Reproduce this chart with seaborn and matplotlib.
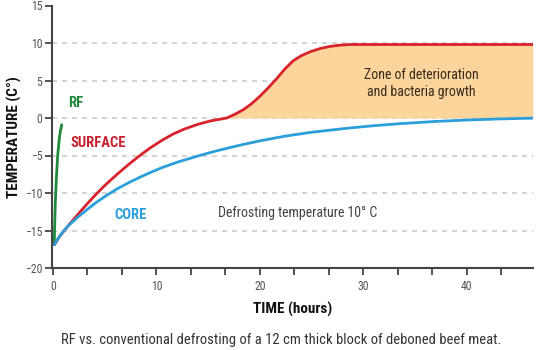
import matplotlib
matplotlib.use("Agg")
import matplotlib.pyplot as plt
import matplotlib.font_manager as fm
import seaborn as sns
import pandas as pd
import numpy as np

# ---- data ----
rf_time = [0.12, 0.15, 0.22, 0.32, 0.45, 0.61, 0.72, 0.84]
rf_temp = [-16.9, -14.9, -11.3, -8.1, -5.0, -2.7, -1.7, -0.9]

surface_time = [0.13, 0.61, 1.09, 1.57, 2.5, 3.3, 4.14, 5.0, 6.2, 7.35, 8.4, 9.44, 10.57,
                11.6, 12.65, 14.0, 15.2, 16.0, 16.8, 17.6, 18.4, 19.2, 20.0, 20.8, 21.6,
                22.4, 23.2, 24.0, 24.9, 25.8, 26.8, 27.8, 28.7, 46.4]
surface_temp = [-16.9, -15.85, -15.0, -14.2, -12.7, -11.45, -10.2, -9.0, -7.5, -6.15, -5.0, -3.95, -2.95,
                -2.15, -1.5, -0.85, -0.4, -0.2, 0.0, 0.5, 1.1, 1.9, 2.9, 4.0, 5.2,
                6.5, 7.6, 8.3, 8.85, 9.25, 9.55, 9.72, 9.8, 9.8]

core_time = [0.13, 0.61, 1.09, 1.57, 2.5, 3.3, 4.14, 5.2, 6.2, 7.35, 8.4, 9.44, 10.57, 12.0,
             14.3, 15.9, 18.0, 20.0, 22.3, 25.0, 28.7, 31.0, 33.5, 37.0, 40.0, 43.0, 46.4]
core_temp = [-16.9, -15.8, -14.95, -14.25, -13.1, -12.2, -11.3, -10.3, -9.45, -8.6, -7.9, -7.25, -6.6, -5.9,
             -4.95, -4.35, -3.65, -3.05, -2.45, -1.9, -1.33, -1.03, -0.76, -0.46, -0.27, -0.13, -0.02]

zone_start = 16.8
x_ticks = [0, 10, 20, 30, 40]
y_ticks = [-20, -15, -10, -5, 0, 5, 10, 15]
grid_levels = [-15, -10, -5, 0, 5, 10]

# ---- fonts ----
avail = {f.name for f in fm.fontManager.ttflist}
cond = None
for cand in ["Roboto Condensed", "Open Sans Condensed", "Liberation Sans Narrow",
             "DejaVu Sans Condensed", "Noto Sans Condensed"]:
    if cand in avail:
        cond = cand
        break
if cond is None:
    cond = "DejaVu Sans"

sns.set_style("white")
plt.rcParams["font.family"] = [cond, "DejaVu Sans"]

GREEN = "#1f8a3c"
RED = "#d9232c"
BLUE = "#2b9fd9"
FILL = "#fbd59c"
AXC = "#444444"

fig = plt.figure(figsize=(5.36, 3.5), dpi=100)
ax = fig.add_axes([0.097, 1 - 268 / 350, 0.994 - 0.097, (268 - 5.5) / 350])

# fill zone of deterioration
s_df = pd.DataFrame({"time": surface_time, "temp": surface_temp})
mask = s_df["time"] >= zone_start
ax.fill_between(s_df["time"][mask], 0, s_df["temp"][mask], color=FILL, lw=0, zorder=1)

for lv in grid_levels:
    ax.axhline(lv, color="#cccccc", lw=1.2, ls=(0, (3, 3)), zorder=0.5)

for xs, ys, c in [(rf_time, rf_temp, GREEN), (surface_time, surface_temp, RED),
                  (core_time, core_temp, BLUE)]:
    sns.lineplot(x=xs, y=ys, ax=ax, color=c, lw=2, sort=False, zorder=3,
                 solid_joinstyle="round", solid_capstyle="round")

ax.set_xlim(-0.1, 46.4)
ax.set_ylim(-20, 15)
ax.set_xticks(x_ticks)
ax.set_xticks(np.arange(0, 46.4, 10 / 3), minor=True)
ax.set_yticks(y_ticks)
ax.tick_params(axis="both", which="both", direction="out", color=AXC, width=1.3,
               labelsize=8.5, labelcolor="#555555", bottom=True, left=True)
ax.tick_params(axis="x", which="major", length=5, pad=4)
ax.tick_params(axis="x", which="minor", length=5)
ax.tick_params(axis="y", length=5, pad=2)
for side in ["top", "right"]:
    ax.spines[side].set_visible(False)
for side in ["left", "bottom"]:
    ax.spines[side].set_color(AXC)
    ax.spines[side].set_linewidth(1.5)

ax.set_xlabel("TIME (hours)", fontsize=11, fontweight="bold", color="#111111", labelpad=6)
ax.set_ylabel("TEMPERATURE (C°)", fontsize=11, fontweight="bold", color="#111111", labelpad=2)

ax.text(1.5, 2.0, "RF", color=GREEN, fontsize=10.5, fontweight="bold", va="center", ha="left")
ax.text(1.7, -3.3, "SURFACE", color="#c8202e", fontsize=10.5, fontweight="bold", va="center", ha="left")
ax.text(5.9, -12.9, "CORE", color=BLUE, fontsize=10.5, fontweight="bold", va="center", ha="left")
ax.text(16.0, -12.7, "Defrosting temperature 10° C", color="#444444", fontsize=10,
        va="center", ha="left")
ax.text(35.6, 4.6, "Zone of deterioration\nand bacteria growth", color="#3a2a1a", fontsize=10,
        va="center", ha="center", linespacing=1.3)

fig.text(0.524, 1 - 340 / 350, "RF vs. conventional defrosting of a 12 cm thick block of deboned beef meat.",
         ha="center", va="center", fontsize=10.5, color="#333333")

fig.savefig("out.png", dpi=100)
